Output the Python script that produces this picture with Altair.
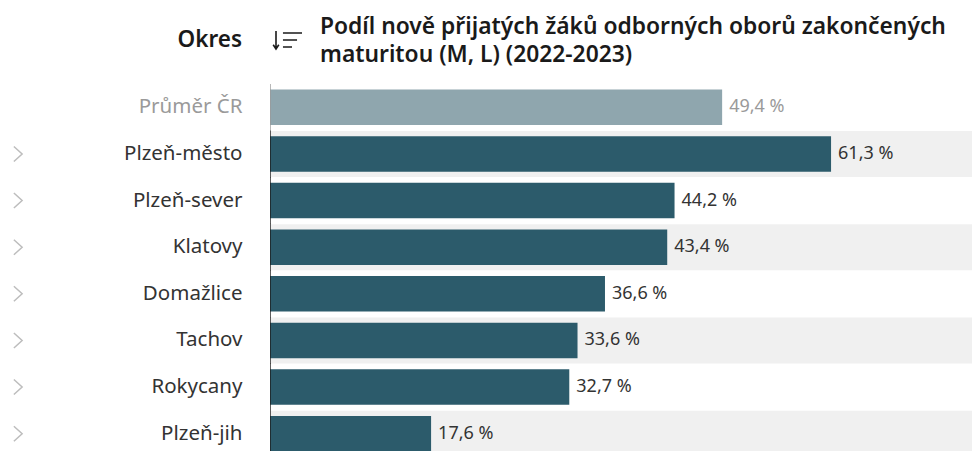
import altair as alt
import pandas as pd

# ---- data ----
districts = ["Průměr ČR", "Plzeň-město", "Plzeň-sever", "Klatovy",
             "Domažlice", "Tachov", "Rokycany", "Plzeň-jih"]
values = [49.4, 61.3, 44.2, 43.4, 36.6, 33.6, 32.7, 17.6]
is_average = [True, False, False, False, False, False, False, False]
header_label = "Okres"
title_lines = ["Podíl nově přijatých žáků odborných oborů zakončených",
               "maturitou (M, L) (2022-2023)"]
X_MAX = 76.7

FONT = "Noto Sans"
BAR = "#2c5b6b"
AVG_BAR = "#8fa6ae"
TXT = "#333333"
AVG_TXT = "#9a9a9a"

df = pd.DataFrame({
    "okres": districts,
    "podil": values,
    "avg": is_average,
    "idx": list(range(len(districts))),
})
df["label"] = [f"{v:.1f}".replace(".", ",") + " %" for v in values]
df["shade"] = df["idx"] % 2 == 1
df["xmax"] = X_MAX

W, H = 702, 367

xscale = alt.Scale(domain=[0, X_MAX], nice=False, zero=True)
yenc = alt.Y(
    "okres:N", sort=districts, title=None,
    scale=alt.Scale(range=[0, 373], paddingInner=0, paddingOuter=0),
    axis=alt.Axis(domain=False, ticks=False, grid=False, labelPadding=28,
                  labelFontSize=20.5, labelFont=FONT,
                  labelColor={"expr": f"datum.value == '{districts[0]}' ? '{AVG_TXT}' : '{TXT}'"}),
)

base = alt.Chart(df)

bg = base.transform_filter("datum.shade").mark_bar(size=46, color="#f0f0f0", clip=True).encode(
    x=alt.X("xmax:Q", scale=xscale, axis=None), y=yenc)

bars = base.mark_bar(size=35.5, clip=True).encode(
    x=alt.X("podil:Q", scale=xscale, axis=None),
    y=yenc,
    color=alt.condition("datum.avg", alt.value(AVG_BAR), alt.value(BAR)),
)

labels = base.mark_text(align="left", baseline="middle", dx=7, fontSize=18, font=FONT).encode(
    x=alt.X("podil:Q", scale=xscale, axis=None),
    y=yenc,
    text="label:N",
    color=alt.condition("datum.avg", alt.value(AVG_TXT), alt.value(TXT)),
)

axis_line = base.mark_tick(thickness=2, size=47, clip=True).encode(
    x=alt.datum(0, scale=xscale),
    y=yenc,
    color=alt.condition("datum.avg", alt.value("#9a9a9a"), alt.value("#1a1a1a")),
)

chevron = base.transform_filter("!datum.avg").mark_point(
    shape="M-0.55,-1L0.55,0L-0.55,1", filled=False, size=225,
    strokeWidth=1.5, color="#bdbdbd", opacity=1).encode(
    x=alt.value(-252), y=yenc)

hdr = pd.DataFrame({"t": [header_label]})
okres_hdr = alt.Chart(hdr).mark_text(
    align="right", baseline="middle", fontSize=22.5, fontWeight=600,
    font=FONT, color="#1a1a1a").encode(
    x=alt.value(-28), y=alt.value(-44), text="t:N")

sort_icon = alt.Chart(hdr).mark_point(
    shape=("M-0.625,-0.56L-0.625,0.56M-0.8,0.3L-0.625,0.56L-0.45,0.3"
           "M-0.19,-0.44L1,-0.44M-0.19,0L0.69,0M-0.19,0.44L0.375,0.44"),
    filled=False, size=1024, strokeWidth=1.6, color="#1a1a1a", opacity=1).encode(
    x=alt.value(16), y=alt.value(-44))

ttl = pd.DataFrame({"t": [title_lines]})
title_txt = alt.Chart(ttl).mark_text(
    align="left", baseline="middle", fontSize=22.8, fontWeight=600,
    font=FONT, color="#1a1a1a", lineHeight=28.5).encode(
    x=alt.value(50), y=alt.value(-57.5), text="t")

chart = alt.layer(bg, bars, labels, axis_line, chevron, okres_hdr, sort_icon, title_txt).properties(
    width=W, height=H,
    autosize=alt.AutoSizeParams(type="none"),
    padding={"left": 262, "top": 76, "right": 0, "bottom": 0},
).configure_view(stroke=None)

chart.save("out.html", embed_options={"renderer": "svg", "actions": False})
